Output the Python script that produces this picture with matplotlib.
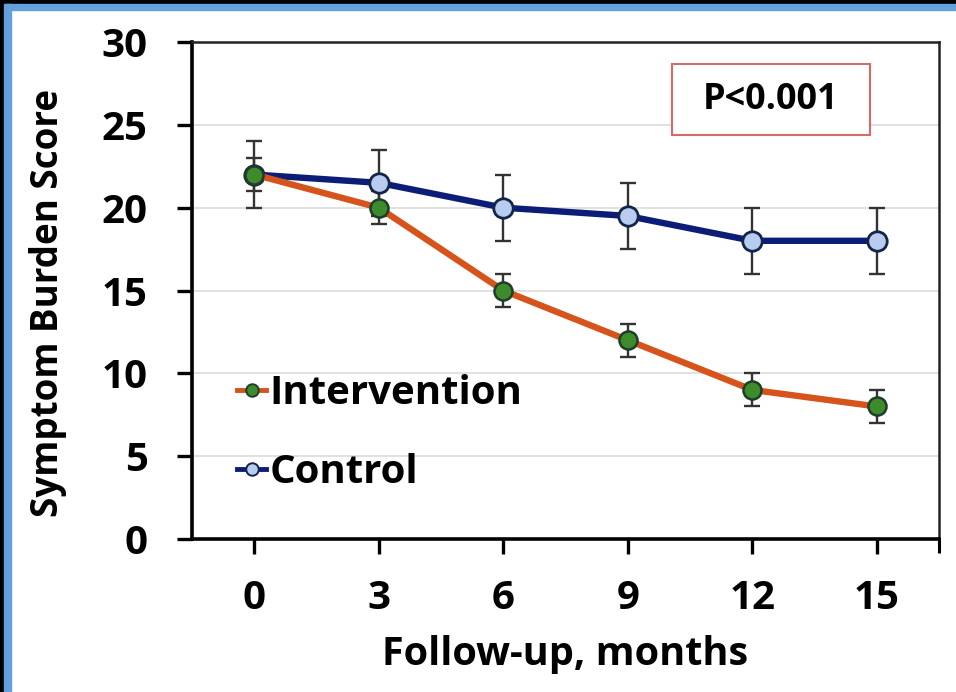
import matplotlib
matplotlib.use("Agg")
import matplotlib.pyplot as plt
from matplotlib.patches import Rectangle
from matplotlib.lines import Line2D

plt.rcParams['font.family'] = ['Open Sans', 'DejaVu Sans']
plt.rcParams['font.weight'] = 'bold'

months = [0, 3, 6, 9, 12, 15]
intervention = [22, 20, 15, 12, 9, 8]
intervention_err = [1, 1, 1, 1, 1, 1]
control = [22, 21.5, 20, 19.5, 18, 18]
control_err = [2, 2, 2, 2, 2, 2]
yticks = [0, 5, 10, 15, 20, 25, 30]
p_text = "P<0.001"

fig = plt.figure(figsize=(9.56, 6.92), dpi=100)
fig.patch.set_facecolor('white')

# frame (top and left border)
fig.add_artist(Rectangle((0, 1 - 4/692), 1, 4/692, transform=fig.transFigure, color='black', zorder=0))
fig.add_artist(Rectangle((0, 1 - 10/692), 1, 6/692, transform=fig.transFigure, color='#64a0dc', zorder=0))
fig.add_artist(Rectangle((0, 0), 4/956, 1, transform=fig.transFigure, color='black', zorder=0))
fig.add_artist(Rectangle((4/956, 0), 7/956, 1 - 4/692, transform=fig.transFigure, color='#64a0dc', zorder=0))

ax = fig.add_axes([192/956, 1 - 539/692, (939 - 192)/956, (539 - 42)/692])
ax.set_xlim(-1.5, 16.5)
ax.set_ylim(0, 30)

ax.grid(axis='y', color='#dcdcdc', linewidth=1.2, zorder=0)
ax.set_axisbelow(True)

ebkw = dict(ecolor='#333333', elinewidth=1.7, capsize=6, capthick=1.7, zorder=2)
ax.errorbar(months, control, yerr=control_err, fmt='none', **ebkw)
ax.errorbar(months, intervention, yerr=intervention_err, fmt='none', **ebkw)

ax.plot(months, control, color='#0c1d78', linewidth=4.6, marker='o', markersize=14,
        markerfacecolor='#b7ccee', markeredgecolor='#14254a', markeredgewidth=2, zorder=3)
ax.plot(months, intervention, color='#d6531c', linewidth=4.6, marker='o', markersize=13,
        markerfacecolor='#3d8b2b', markeredgecolor='#1f3d2a', markeredgewidth=1.8, zorder=4)

ax.set_xticks(months)
ax.set_xticklabels([str(m) for m in months])
ax.set_yticks(yticks)
ax.set_yticklabels([str(v) for v in yticks])
ax.set_xticks([16.5], minor=True)
ax.tick_params(axis='x', which='minor', length=10, width=2.2, color='black')
ax.tick_params(axis='both', which='major', labelsize=29, width=2.4, length=11, color='black', direction='out')
ax.tick_params(axis='y', pad=21)
ax.tick_params(axis='x', pad=18)
for lbl in ax.get_xticklabels() + ax.get_yticklabels():
    lbl.set_fontweight('bold')

for side in ['left', 'bottom']:
    ax.spines[side].set_linewidth(2.6)
    ax.spines[side].set_color('black')
for side in ['top', 'right']:
    ax.spines[side].set_linewidth(1.8)
    ax.spines[side].set_color('#222222')

ax.set_ylabel('Symptom Burden Score', fontsize=26.5, fontweight='bold')
ax.set_xlabel('Follow-up, months', fontsize=28.5, fontweight='bold')
ax.yaxis.set_label_coords(-0.168, 0.475)
ax.xaxis.set_label_coords(0.499, -0.193)

handles = [
    Line2D([0], [0], color='#d6531c', linewidth=3.5, marker='o', markersize=9,
           markerfacecolor='#3d8b2b', markeredgecolor='#1f3d2a', markeredgewidth=1.4),
    Line2D([0], [0], color='#0c1d78', linewidth=3.5, marker='o', markersize=9,
           markerfacecolor='#b7ccee', markeredgecolor='#14254a', markeredgewidth=1.4),
]
leg = ax.legend(handles, ['Intervention', 'Control'], loc='upper left',
                bbox_to_anchor=(0.012, 0.405), frameon=False,
                handlelength=0.72, handletextpad=0.08, labelspacing=1.0,
                prop={'weight': 'bold', 'size': 29})

ax.add_patch(Rectangle((0.6426, 0.8129), 0.265, 0.1428, transform=ax.transAxes,
                       facecolor='white', edgecolor='#d46a6a', linewidth=1.5, zorder=5))
ax.text(0.775, 0.883, p_text, transform=ax.transAxes, fontsize=26, fontweight='bold',
        ha='center', va='center', zorder=6)

fig.savefig('out.png', dpi=100)
